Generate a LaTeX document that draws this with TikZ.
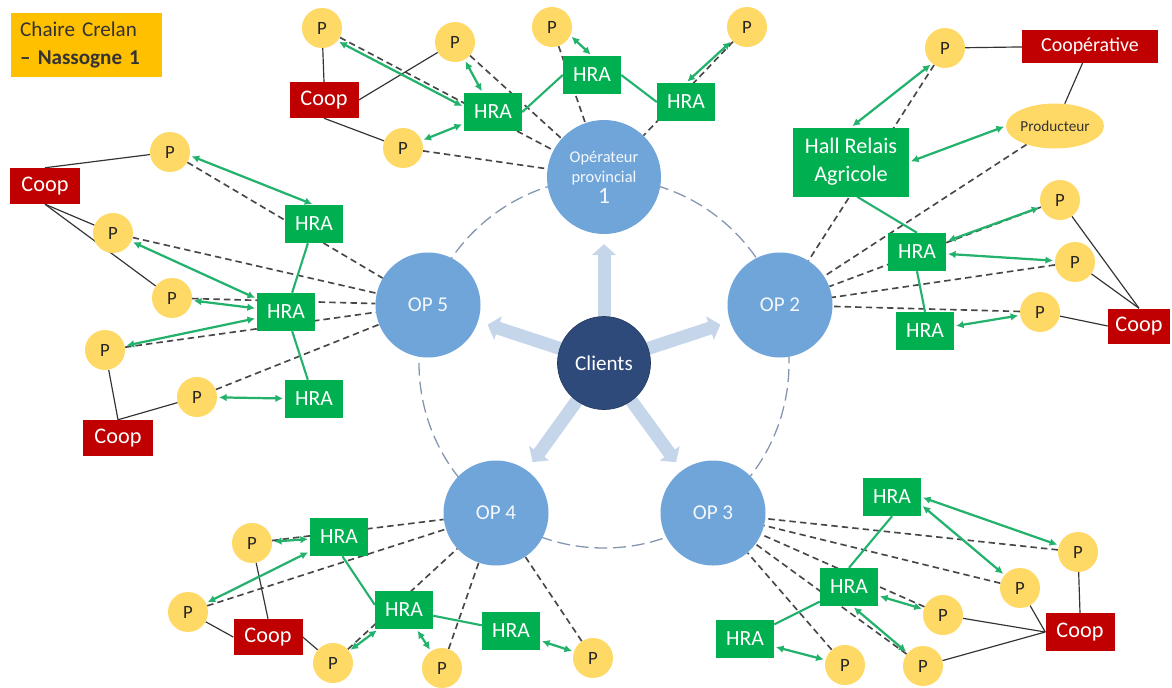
\documentclass[tikz,border=0pt]{standalone}
\usepackage{fontspec}
\setmainfont{Carlito}
\usetikzlibrary{arrows.meta,shapes.geometric}
\definecolor{pfill}{HTML}{FFD966}
\definecolor{hragreen}{HTML}{00B050}
\definecolor{agreen}{HTML}{22B26C}
\definecolor{coopred}{HTML}{C00000}
\definecolor{opblue}{HTML}{70A5DA}
\definecolor{cliblue}{HTML}{2E4A7B}
\definecolor{fatblue}{HTML}{C5D5EA}
\definecolor{circgray}{HTML}{8496AE}
\definecolor{dashgray}{HTML}{474747}
\definecolor{titlegold}{HTML}{FFC000}
\definecolor{linegray}{HTML}{333333}
\pgfdeclarelayer{bg}
\pgfsetlayers{bg,main}
\begin{document}
\begin{tikzpicture}[x=0.03cm,y=-0.03cm,
  pnode/.style={circle,fill=pfill,minimum size=1.2cm,inner sep=0pt,font=\fontsize{16}{16}\selectfont,text=black!85},
  hra/.style={rectangle,fill=hragreen,minimum width=1.74cm,minimum height=1.14cm,inner sep=0pt,text=white,font=\fontsize{18.5}{18.5}\selectfont},
  coop/.style={rectangle,fill=coopred,minimum width=2.07cm,minimum height=1.08cm,inner sep=0pt,text=white,font=\fontsize{19}{19}\selectfont},
  opn/.style={circle,fill=opblue,minimum size=3.15cm,inner sep=0pt,text=white!92!opblue,font=\fontsize{18}{18}\selectfont},
  dsh/.style={draw=dashgray,line width=1.4pt,dash pattern=on 5.5pt off 3.5pt},
  sol/.style={draw=linegray,line width=1pt},
  glink/.style={draw=agreen,line width=1.8pt},
  garr/.style={draw=agreen,line width=1.9pt,<->,>={Latex[length=6.5pt,width=6.5pt]},shorten <=1.5pt,shorten >=1.5pt},
  fat/.style={draw=fatblue,line width=0.39cm,-{Triangle[width=0.72cm,length=0.33cm]},shorten >=0.3cm},
]
\useasboundingbox (0,0) rectangle (1172,687);

% title
\node[rectangle,fill=titlegold,minimum width=4.53cm,minimum height=1.92cm,inner xsep=0.27cm,
      text width=3.99cm,align=left,font=\fontsize{18}{24}\selectfont,text=black!80,anchor=north west]
      (title) at (11,13) {Chaire Crelan\\\textbf{– Nassogne 1}};

% centre
\node[circle,fill=cliblue,draw=cliblue!80!black,line width=0.6pt,minimum size=2.79cm,inner sep=0pt,text=white,font=\fontsize{18}{18}\selectfont] (clients) at (604,363) {Clients};
\node[opn,minimum size=3.42cm,align=center,font=\fontsize{14}{17}\selectfont] (op1) at (604,177) {Opérateur\\provincial\\[1pt]{\fontsize{20}{20}\selectfont 1}};
\node[opn] (op2) at (780,305) {OP 2};
\node[opn] (op3) at (713,513) {OP 3};
\node[opn] (op4) at (496,513) {OP 4};
\node[opn] (op5) at (428,305) {OP 5};

% top cluster (OP1)
\node[pnode] (p1a) at (322,28) {P};
\node[coop] (coop1) at (324,100) {Coop};
\node[pnode] (p1b) at (455,42) {P};
\node[hra] (h1a) at (493,112) {HRA};
\node[pnode] (p1c) at (403,148) {P};
\node[hra] (h1b) at (592,75) {HRA};
\node[pnode] (p1d) at (552,27) {P};
\node[hra] (h1c) at (686,102) {HRA};
\node[pnode] (p1e) at (747,27) {P};

% right cluster (OP2)
\node[pnode] (p2a) at (945,48) {P};
\node[coop,minimum width=4.08cm,minimum height=0.99cm,font=\fontsize{17}{17}\selectfont] (coopv) at (1090,46) {Coopérative};
\node[ellipse,fill=pfill,minimum width=2.91cm,minimum height=1.35cm,inner sep=0pt,font=\fontsize{13}{13}\selectfont,text=black!80] (prod) at (1055,126) {Producteur};
\node[hra,minimum width=3.48cm,minimum height=2.07cm,align=center,font=\fontsize{19}{24}\selectfont] (hall) at (851,162) {Hall Relais\\Agricole};
\node[hra] (h2a) at (917,252) {HRA};
\node[hra] (h2b) at (925,331) {HRA};
\node[pnode] (p2b) at (1060,200) {P};
\node[pnode] (p2c) at (1075,262) {P};
\node[pnode] (p2d) at (1040,312) {P};
\node[coop,minimum width=1.86cm,minimum height=1.05cm] (coop2) at (1139,326) {Coop};

% left cluster (OP5)
\node[pnode] (p5a) at (170,152) {P};
\node[coop] (coop5a) at (45,186) {Coop};
\node[pnode] (p5b) at (113,233) {P};
\node[pnode] (p5c) at (172,298) {P};
\node[pnode] (p5d) at (105,350) {P};
\node[pnode] (p5e) at (197,397) {P};
\node[coop] (coop5b) at (118,438) {Coop};
\node[hra] (h5a) at (314,224) {HRA};
\node[hra] (h5b) at (286,312) {HRA};
\node[hra] (h5c) at (314,399) {HRA};

% bottom-left cluster (OP4)
\node[hra] (h4a) at (339,537) {HRA};
\node[pnode] (p4a) at (252,543) {P};
\node[pnode] (p4b) at (188,612) {P};
\node[coop] (coop4) at (268,637) {Coop};
\node[hra] (h4b) at (404,610) {HRA};
\node[hra] (h4c) at (511,631) {HRA};
\node[pnode] (p4c) at (333,663) {P};
\node[pnode] (p4d) at (442,668) {P};
\node[pnode] (p4e) at (593,658) {P};

% bottom-right cluster (OP3)
\node[hra] (h3a) at (892,497) {HRA};
\node[hra] (h3b) at (849,587) {HRA};
\node[hra] (h3c) at (745,639) {HRA};
\node[pnode] (p3a) at (1078,552) {P};
\node[pnode] (p3b) at (1020,588) {P};
\node[pnode] (p3c) at (943,615) {P};
\node[pnode] (p3d) at (845,665) {P};
\node[pnode] (p3e) at (923,666) {P};
\node[coop,minimum height=1.14cm] (coop3) at (1080,632) {Coop};

\begin{pgfonlayer}{bg}
\fill[white] (0,0) rectangle (1172,687);
\draw[circgray,line width=1.1pt,dash pattern=on 11pt off 5pt] (clients.center) circle (5.55cm);

% dashed links to operators
\foreach \p in {p1a,p1b,p1c,p1d,p1e} \draw[dsh] (\p) -- (op1);
\foreach \p in {p2a,prod,p2b,p2c,p2d} \draw[dsh] (\p) -- (op2);
\foreach \p in {p3a,p3b,p3c,p3d,p3e} \draw[dsh] (\p) -- (op3);
\foreach \p in {p4a,p4b,p4c,p4d,p4e} \draw[dsh] (\p) -- (op4);
\foreach \p in {p5a,p5b,p5c,p5d,p5e} \draw[dsh] (\p) -- (op5);

% solid black links
\draw[sol] (coop1.north) -- (p1a);
\draw[sol] (coop1.east) -- (p1b);
\draw[sol] (coop1.south) -- (p1c);
\draw[sol] (p2a) -- (coopv);
\draw[sol] (coopv) -- (prod);
\draw[sol] (coop2.north) -- (p2b);
\draw[sol] (coop2.north) -- (p2c);
\draw[sol] (coop2.west) -- (p2d);
\draw[sol] (coop5a.north) -- (p5a);
\draw[sol] (coop5a.south) -- (p5b);
\draw[sol] (coop5a.south) -- (p5c);
\draw[sol] (coop5b.north) -- (p5d);
\draw[sol] (coop5b.north) -- (p5e);
\draw[sol] (coop4.north) -- (p4a);
\draw[sol] (coop4.west) -- (p4b);
\draw[sol] (coop4.east) -- (p4c);
\draw[sol] (coop3.north) -- (p3a);
\draw[sol] (coop3.west) -- (p3b);
\draw[sol] (coop3.west) -- (p3c);
\draw[sol] (coop3.west) -- (p3e);

% green links between relays
\draw[glink] (h1a.east) -- (h1b.west);
\draw[glink] (h1b.east) -- (h1c.west);
\draw[glink] (hall.-80) -- (h2a.north);
\draw[glink] (h2a.south) -- (h2b.north);
\draw[glink] (h5a) -- (h5b);
\draw[glink] (h5b) -- (h5c);
\draw[glink] (h4a.-80) -- (h4b.170);
\draw[glink] (h4b) -- (h4c);
\draw[glink] (h3a.south) -- (h3b.north);
\draw[glink] (h3b) -- (h3c);

% green double arrows
\draw[garr] (p1a.-40) -- (h1a.170);
\draw[garr] (p1b) -- (h1a);
\draw[garr] (p1c) -- (h1a);
\draw[garr] (p1d.-25) -- (h1b.north);
\draw[garr] (p1e) -- (h1c.north);
\draw[garr] (hall.north) -- (p2a.-130);
\draw[garr] (hall.east) -- (prod.west);
\draw[garr] (h2a) -- (p2b);
\draw[garr] (h2a) -- (p2c);
\draw[garr] (h2b) -- (p2d);
\draw[garr] (p5a.-10) -- (h5a.north);
\draw[garr] (p5b) -- (h5b);
\draw[garr] (p5c) -- (h5b);
\draw[garr] (h5b) -- (p5d);
\draw[garr] (p5e) -- (h5c);
\draw[garr] (p4a) -- (h4a);
\draw[garr] (p4b) -- (h4a);
\draw[garr] (h4b) -- (p4c);
\draw[garr] (h4b) -- (p4d);
\draw[garr] (h4c) -- (p4e);
\draw[garr] (h3a.east) -- (p3a);
\draw[garr] (h3a.-15) -- (p3b);
\draw[garr] (h3b) -- (p3c);
\draw[garr] (h3b.-80) -- (p3e);
\draw[garr] (h3c) -- (p3d);

% thick arrows from clients
\foreach \o in {op1,op2,op3,op4,op5} \draw[fat] (clients) -- (\o);
\end{pgfonlayer}
\end{tikzpicture}
\end{document}
